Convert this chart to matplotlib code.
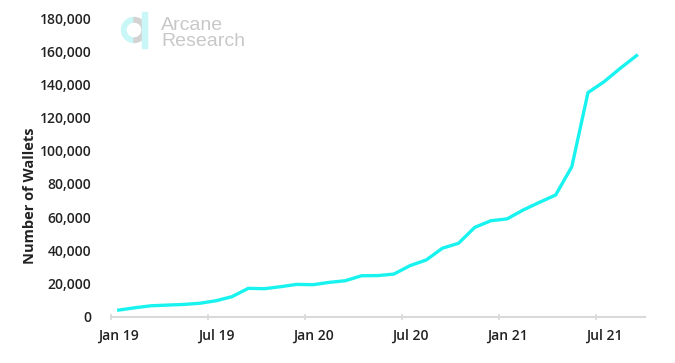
import numpy as np
import pandas as pd
import matplotlib
matplotlib.use("Agg")
import matplotlib.pyplot as plt
from matplotlib.patches import Wedge, Rectangle
from matplotlib.ticker import FuncFormatter

# monthly wallet counts, Jan 2019 .. Sep 2021
months = pd.date_range("2019-01-01", "2021-09-01", freq="MS")
wallets = [
    3900, 5300, 6500, 6900, 7300, 8000, 9500, 12000, 17000, 16800, 18000, 19400,
    19200, 20600, 21600, 24600, 24700, 25600, 30700, 34100, 41200, 44200, 53800, 57800,
    58900, 64300, 68900, 73300, 90400, 135100, 141700, 149800, 157400,
]
tick_labels = ["Jan 19", "Jul 19", "Jan 20", "Jul 20", "Jan 21", "Jul 21"]
tick_months = [0, 6, 12, 18, 24, 30]

plt.rcParams["font.family"] = ["Open Sans", "DejaVu Sans"]

fig = plt.figure(figsize=(6.75, 3.63), dpi=100)

# watermark logo, drawn in pixel coordinates behind the chart
W, H = 675, 363
logo = fig.add_axes([0, 0, 1, 1], zorder=0)
logo.set_xlim(0, W)
logo.set_ylim(H, 0)
logo.axis("off")
logo.add_patch(Wedge((134, 30), 12.5, 90, 270, width=4.5, color="#c9f6f6"))
logo.add_patch(Wedge((134, 30), 12.5, -90, 90, width=4.5, color="#d3d3d3"))
logo.add_patch(Rectangle((141.5, 12), 5, 36, color="#c9f6f6"))
logo.text(161, 30, "Arcane", fontsize=14, color="#c8c8c8", family="Liberation Sans", va="baseline")
logo.text(161, 46.5, "Research", fontsize=14, color="#c8c8c8", family="Liberation Sans", va="baseline")

ax = fig.add_axes([0.164, 0.128, 0.791, 0.822], zorder=1)
ax.patch.set_alpha(0)

x = np.arange(len(months))
ax.plot(x, wallets, color="#19F3EF", lw=2.4, solid_joinstyle="round")

ax.set_xlim(-0.5, len(months) - 0.5)
ax.set_ylim(0, 180000)
ax.set_yticks(range(0, 180001, 20000))
ax.yaxis.set_major_formatter(FuncFormatter(lambda v, p: f"{int(v):,}"))

# ticks sit at month boundaries, labels centred on the month
ax.set_xticks([m - 0.5 for m in tick_months])
ax.set_xticklabels([])
ax.set_xticks(tick_months, minor=True)
ax.set_xticklabels(tick_labels, minor=True)
ax.tick_params(axis="x", which="major", length=5, color="#d9d9d9", width=1.2, direction="inout")
ax.tick_params(axis="x", which="minor", length=0, pad=9)
ax.tick_params(axis="y", length=0, pad=14)
for lab in ax.get_xticklabels(minor=True) + ax.get_yticklabels():
    lab.set_fontsize(10)
    lab.set_fontweight("semibold")
    lab.set_color("#222222")

for s in ("top", "right", "left"):
    ax.spines[s].set_visible(False)
ax.spines["bottom"].set_color("#d9d9d9")
ax.spines["bottom"].set_linewidth(1.5)

fig.text(0.044, 0.46, "Number of Wallets", rotation=90, ha="center", va="center",
         fontsize=10.5, fontweight="bold", color="#222222")

fig.savefig("out.png", dpi=100)
